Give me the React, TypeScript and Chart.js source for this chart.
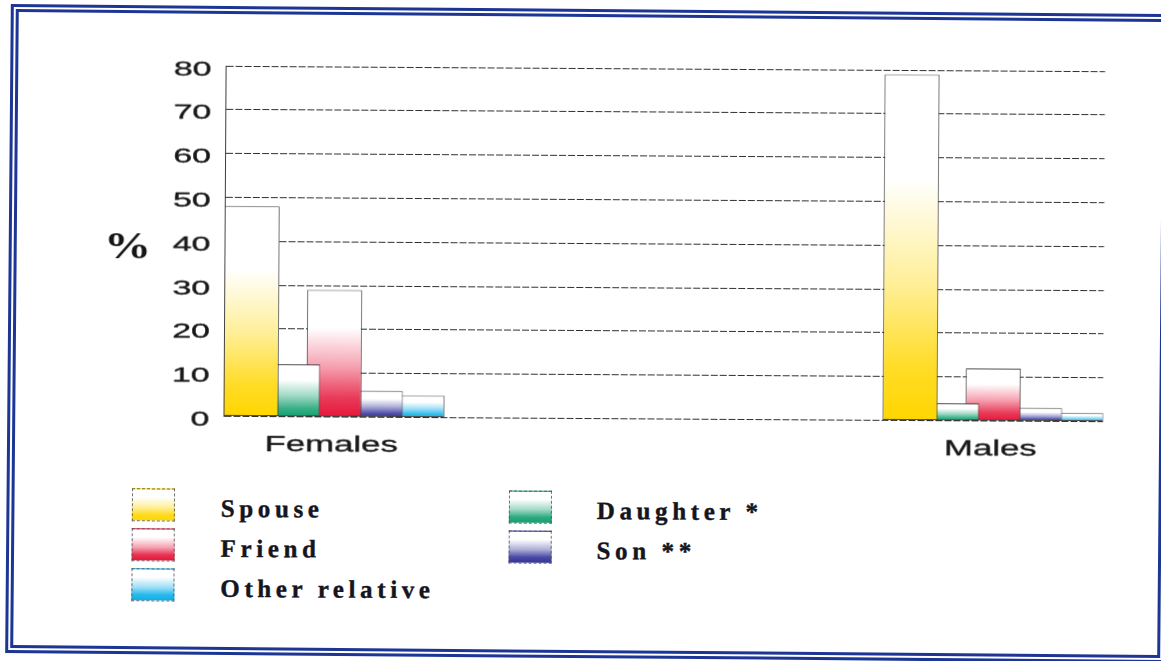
import { useEffect, useRef } from 'react';
import { Chart, registerables } from 'chart.js';

Chart.register(...registerables);

// Two groups sit in the outer slots of a four-slot category axis.
const categories = ['Females', '', '', 'Males'];
const seriesNames = ['Spouse', 'Daughter *', 'Friend', 'Son **', 'Other relative'];
const spouse = [48, null, null, 79];
const daughter = [12, null, null, 4];
const friend = [29, null, null, 12];
const son = [6, null, null, 3];
const otherRelative = [5, null, null, 2];
const yTicks = [0, 10, 20, 30, 40, 50, 60, 70, 80];
const seriesColors = ['#ffd600', '#12a06f', '#e5173b', '#33339a', '#0bb0e8'];

const seriesValues = [spouse, daughter, friend, son, otherRelative];
// Legend columns: indexes into seriesNames.
const legendColumns = [[0, 2, 4], [1, 3]];

function tint(hex: string, amt: number): string {
  const n = parseInt(hex.slice(1), 16);
  const r = (n >> 16) & 255, g = (n >> 8) & 255, b = n & 255;
  const m = (c: number) => Math.round(c + (255 - c) * amt);
  return `rgb(${m(r)},${m(g)},${m(b)})`;
}

const SANS = '"Liberation Sans", Arial, sans-serif';
const SERIF = '"Liberation Serif", "Times New Roman", serif';
const INK = '#181818';

// Draws the wide-set axis text from the scales' own ticks and labels.
const axisText = {
  id: 'axisText',
  afterDraw(chart: any) {
    const { ctx, scales } = chart;
    const y = scales.y;
    const x = scales.x;
    ctx.save();
    ctx.fillStyle = INK;
    ctx.strokeStyle = INK;
    ctx.lineWidth = 0.35;
    ctx.textBaseline = 'alphabetic';
    ctx.font = `20px ${SANS}`;
    ctx.textAlign = 'right';
    y.ticks.forEach((t: any) => {
      const py = y.getPixelForValue(t.value);
      ctx.save();
      ctx.translate(y.right - 14.5, py + 9.5);
      ctx.scale(1.7, 1);
      ctx.fillText(String(t.label), 0, 0);
      ctx.strokeText(String(t.label), 0, 0);
      ctx.restore();
    });
    ctx.font = `22px ${SANS}`;
    ctx.textAlign = 'center';
    x.getLabels().forEach((label: string, i: number) => {
      if (!label) return;
      const px = x.getPixelForValue(i) - 2.5;
      ctx.save();
      ctx.translate(px, x.top + 34.5);
      ctx.scale(1.58, 1);
      ctx.fillText(label, 0, 0);
      ctx.strokeText(label, 0, 0);
      ctx.restore();
    });
    ctx.restore();
  },
};

function barFill(color: string) {
  return (c: any) => {
    const chart = c.chart;
    const v = c.parsed ? c.parsed.y : null;
    if (!chart.chartArea || v == null || isNaN(v)) return color;
    const y = chart.scales.y;
    const top = y.getPixelForValue(v);
    const bottom = y.getPixelForValue(0);
    if (!isFinite(top) || !isFinite(bottom) || bottom - top < 1) return color;
    const g = chart.ctx.createLinearGradient(0, top, 0, bottom);
    g.addColorStop(0, '#ffffff');
    g.addColorStop(0.3, '#ffffff');
    g.addColorStop(0.6, tint(color, 0.6));
    g.addColorStop(0.85, tint(color, 0.15));
    g.addColorStop(1, color);
    return g;
  };
}

export default function App() {
  const canvasRef = useRef<HTMLCanvasElement>(null);

  useEffect(() => {
    const canvas = canvasRef.current;
    if (!canvas) return;
    const chart = new Chart(canvas, {
      type: 'bar',
      data: {
        labels: categories,
        datasets: seriesNames.map((name, i) => ({
          label: name,
          data: seriesValues[i],
          backgroundColor: barFill(seriesColors[i]),
          borderColor: 'rgba(60,60,60,0.9)',
          borderWidth: 1,
          borderSkipped: false,
          categoryPercentage: 0.944,
          barPercentage: 1.325,
        })),
      },
      options: {
        responsive: false,
        animation: false,
        events: [],
        layout: { padding: { left: 0, top: 68, right: 57.5, bottom: 0 } },
        plugins: {
          legend: { display: false },
          tooltip: { enabled: false },
          title: { display: false },
        },
        scales: {
          x: {
            type: 'category',
            grid: { display: false },
            border: { display: false },
            ticks: { display: false },
            afterFit: (s: any) => {
              s.height = 51.5;
            },
          },
          y: {
            min: 0,
            max: 80,
            afterBuildTicks: (s: any) => {
              s.ticks = yTicks.map((value) => ({ value }));
            },
            ticks: { display: false },
            grid: { color: 'rgba(25,25,25,0.9)', lineWidth: 1, drawTicks: false },
            border: { display: true, color: 'rgba(40,40,40,0.9)', width: 1, dash: [7, 2] },
            afterFit: (s: any) => {
              s.width = 224.5;
            },
          },
        },
      },
      plugins: [axisText],
    });
    return () => chart.destroy();
  }, []);

  const legendLeft = [[133, 222], [509.5, 598]];

  return (
    <div
      style={{
        position: 'absolute',
        left: 0,
        top: 0,
        width: 1161,
        height: 661,
        overflow: 'hidden',
        background: '#ffffff',
      }}
    >
      <div
        style={{
          position: 'absolute',
          left: 0,
          top: 0,
          width: 1161,
          height: 661,
          transform: 'rotate(0.35deg)',
          transformOrigin: '580.5px 330.5px',
        }}
      >
        <div
          style={{
            position: 'absolute',
            left: 7.5,
            top: 9.3,
            width: 1167 - 7.5,
            height: 658.3 - 9.3,
            boxSizing: 'border-box',
            border: '8px double #1d3594',
            transform: 'rotate(0.15deg)',
            transformOrigin: '573px 324px',
          }}
        />
        <canvas
          ref={canvasRef}
          width={1161}
          height={470}
          style={{ position: 'absolute', left: 0, top: 0, width: 1161, height: 470 }}
        />
        <div
          style={{
            position: 'absolute',
            left: 97,
            top: 229.2,
            width: 60,
            textAlign: 'center',
            font: `bold 38px ${SERIF}`,
            lineHeight: '38px',
            color: '#151515',
            transform: 'scaleX(1.24)',
          }}
        >
          %
        </div>
        {legendColumns.map((col, ci) =>
          col.map((si, ri) => (
            <div key={seriesNames[si]}>
              <div
                style={{
                  position: 'absolute',
                  left: legendLeft[ci][0],
                  top: 490.6 + ri * 40,
                  width: 43,
                  height: 33,
                  boxSizing: 'border-box',
                  border: '1px dashed rgba(80,80,80,0.8)',
                  background: `linear-gradient(to bottom, #ffffff 0%, #ffffff 25%, ${tint(
                    seriesColors[si],
                    0.6
                  )} 58%, ${tint(seriesColors[si], 0.12)} 82%, ${seriesColors[si]} 100%)`,
                }}
              />
              <div
                style={{
                  position: 'absolute',
                  left: legendLeft[ci][1],
                  top: 498.1 + ri * 40,
                  font: `bold 25px ${SERIF}`,
                  lineHeight: '25px',
                  letterSpacing: '4.6px',
                  whiteSpace: 'nowrap',
                  color: '#151520',
                  WebkitTextStroke: '0.4px #151520',
                }}
              >
                {seriesNames[si]}
              </div>
            </div>
          ))
        )}
      </div>
    </div>
  );
}
